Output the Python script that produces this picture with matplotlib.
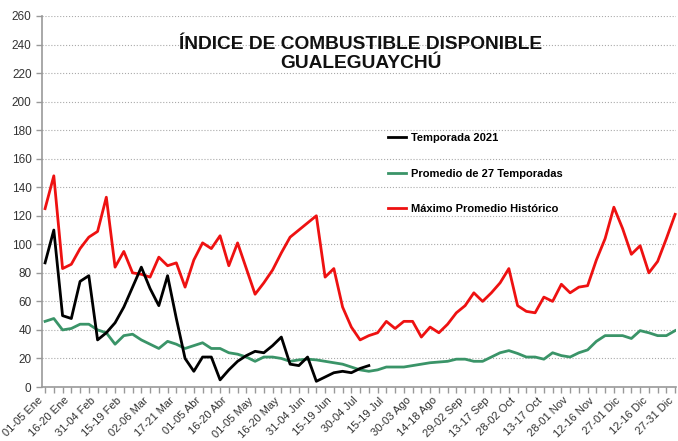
import numpy as np
import matplotlib.pyplot as plt

plt.rcParams['font.family'] = ['Liberation Sans', 'DejaVu Sans']

# periodos de 5 dias (73 en el año), etiqueta cada 3
etiquetas = ['01-05 Ene', '16-20 Ene', '31-04 Feb', '15-19 Feb', '02-06 Mar',
             '17-21 Mar', '01-05 Abr', '16-20 Abr', '01-05 May', '16-20 May',
             '31-04 Jun', '15-19 Jun', '30-04 Jul', '15-19 Jul', '30-03 Ago',
             '14-18 Ago', '29-02 Sep', '13-17 Sep', '28-02 Oct', '13-17 Oct',
             '28-01 Nov', '12-16 Nov', '27-01 Dic', '12-16 Dic', '27-31 Dic']

temporada_2021 = [87, 110, 50, 48, 74, 78, 33, 38, 45, 56, 70, 84, 69, 57, 78, 48,
                  20, 11, 21, 21, 5, 12, 18, 22, 25, 24, 29, 35, 16, 15, 21, 4,
                  7, 10, 11, 10, 13, 15]

promedio_27 = [46, 48, 40, 41, 44, 44, 40, 38, 30, 36, 37, 33, 30, 27, 32, 30,
               27, 29, 31, 27, 27, 24, 23, 21, 18, 21, 21, 20, 18, 19, 19.5, 19,
               18, 17, 16, 14, 12, 11, 12, 14, 14, 14, 15, 16, 17, 17.5, 18, 19.5,
               19.5, 18, 18, 21, 24, 25.5, 23.5, 21, 21, 19.5, 24, 22, 21, 24,
               26, 32, 36, 36, 36, 34, 39.5, 38, 36, 36, 39.5]

maximo_historico = [125, 148, 83, 86, 97, 105, 109, 133, 84, 95, 80, 79, 77, 91,
                    85, 87, 70, 89, 101, 97, 106, 85, 101, 83, 65, 73, 82, 94,
                    105, 110, 115, 120, 77, 83, 56, 42, 33, 36, 38, 46, 41, 46,
                    46, 35, 42, 38, 44, 52, 57, 66, 60, 66, 73, 83, 57, 53, 52,
                    63, 60, 72, 66, 70, 71, 89, 104, 126, 111, 93, 99, 80, 88,
                    104, 121]

fig = plt.figure(figsize=(6.78, 4.41), dpi=100)
ax = fig.add_axes([42/678, 54/441, 634/678, 371/441])

lw = 2.0
ax.plot(range(len(temporada_2021)), temporada_2021, color='black', lw=lw,
        label='Temporada 2021', zorder=4)
ax.plot(range(len(promedio_27)), promedio_27, color='#3a9468', lw=lw,
        label='Promedio de 27 Temporadas', zorder=3)
ax.plot(range(len(maximo_historico)), maximo_historico, color='#ee1111', lw=lw,
        label='Máximo Promedio Histórico', zorder=2, clip_on=False)

ax.set_ylim(0, 260)
ax.set_yticks(np.arange(0, 261, 20))
ax.set_xlim(-0.35, 72.1)
ax.set_xticks(np.arange(0, 73, 3))
ax.set_xticks(np.arange(0, 73), minor=True)
# rotation_mode por defecto: la caja girada queda a la izquierda del tick
ax.set_xticklabels(etiquetas, rotation=45, ha='right', va='top',
                   fontsize=8, color='#333333')
ax.tick_params(axis='y', labelsize=8.5, labelcolor='#333333', color='#999999',
               length=4, width=1)
ax.tick_params(axis='x', which='both', color='#999999', length=4, width=1,
               pad=2)

ax.grid(axis='y', linestyle=':', color='#aaaaaa', lw=0.8)
ax.set_axisbelow(True)
for s in ['top', 'right']:
    ax.spines[s].set_visible(False)
for s in ['left', 'bottom']:
    ax.spines[s].set_color('#999999')
    ax.spines[s].set_linewidth(1.2)

fig.text(0.532, 1 - 54/441, 'ÍNDICE DE COMBUSTIBLE DISPONIBLE\nGUALEGUAYCHÚ',
         ha='center', va='center', fontsize=13.8, fontweight='bold',
         linespacing=1.15, color='#111111')

leg = ax.legend(loc='upper left', bbox_to_anchor=(378/678, 1 - 123/441),
                bbox_transform=fig.transFigure, frameon=False,
                prop={'weight': 'bold', 'size': 8}, handlelength=1.6,
                handletextpad=0.5, labelspacing=2.3)

fig.savefig('out.png', dpi=100)
